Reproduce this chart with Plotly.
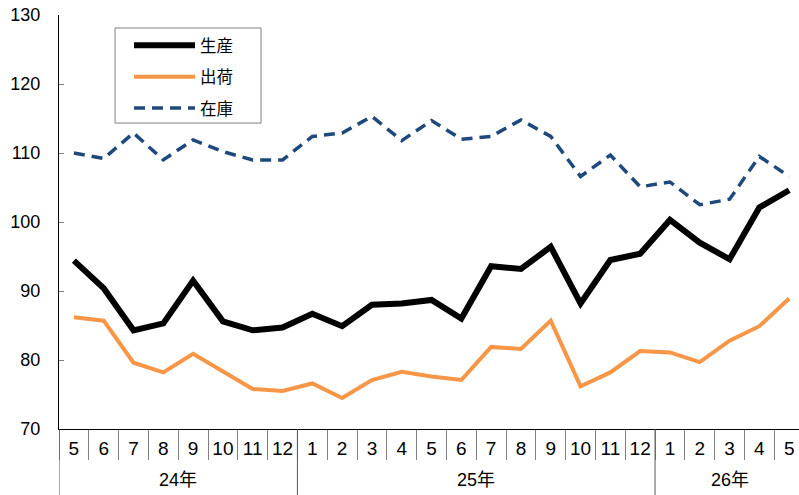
import plotly.graph_objects as go

months = ["5", "6", "7", "8", "9", "10", "11", "12",
          "1", "2", "3", "4", "5", "6", "7", "8", "9", "10", "11", "12",
          "1", "2", "3", "4", "5"]
years = ["24年", "25年", "26年"]
year_spans = [(0, 7), (8, 19), (20, 24)]  # index ranges of months per year

production = [94.4, 90.4, 84.3, 85.3, 91.5, 85.6, 84.3, 84.7,
              86.7, 84.9, 88.0, 88.2, 88.7, 86.0, 93.6, 93.2, 96.4, 88.2, 94.5, 95.4,
              100.3, 97.0, 94.6, 102.1, 104.6]
shipment = [86.2, 85.7, 79.6, 78.2, 80.9, 78.3, 75.8, 75.5,
            76.6, 74.5, 77.1, 78.3, 77.6, 77.1, 81.9, 81.6, 85.7, 76.2, 78.2, 81.3,
            81.1, 79.7, 82.8, 84.9, 88.9]
inventory = [110.0, 109.2, 112.9, 109.0, 111.9, 110.2, 109.0, 109.0,
             112.4, 112.9, 115.3, 111.8, 114.7, 112.0, 112.4, 114.8, 112.4, 106.6, 109.7, 105.1,
             105.8, 102.5, 103.3, 109.5, 106.6]

names = ["生産", "出荷", "在庫"]
x = list(range(len(months)))

FONT = "Liberation Sans, Arial, Noto Sans CJK JP, sans-serif"

fig = go.Figure()
fig.add_trace(go.Scatter(x=x, y=production, name=names[0], mode="lines", legendgroup="a",
                         line=dict(color="#000000", width=6)))
fig.add_trace(go.Scatter(x=x, y=shipment, name=names[1], mode="lines", legendgroup="b",
                         line=dict(color="#F79646", width=4)))
fig.add_trace(go.Scatter(x=x, y=inventory, name=names[2], mode="lines", legendgroup="c",
                         line=dict(color="#1F497D", width=3.5, dash="11px,7px")))

# year dividers
bounds = [-0.5] + [s[1] + 0.5 for s in year_spans]
for b in bounds:
    fig.add_shape(type="line", xref="x", yref="paper", x0=b, x1=b, y0=0, y1=-0.2,
                  line=dict(color="#595959", width=1))

for yr, (a, b) in zip(years, year_spans):
    fig.add_annotation(x=(a + b) / 2, y=-0.123,
                       xref="x", yref="paper", text=yr, showarrow=False,
                       font=dict(size=18, color="#000000", family=FONT),
                       xanchor="center", yanchor="middle")

# legend frame
fig.add_shape(type="rect", xref="paper", yref="paper",
              x0=0.0757, x1=0.273, y0=0.739, y1=0.9686,
              line=dict(color="#808080", width=1), fillcolor="white", layer="below")

fig.update_layout(
    width=799, height=495,
    margin=dict(l=59, r=0, t=15, b=66),
    plot_bgcolor="white", paper_bgcolor="white",
    font=dict(family=FONT, size=18, color="#000000"),
    showlegend=True,
    legend=dict(x=0.0946, y=0.9686, xanchor="left", yanchor="top",
                bgcolor="rgba(0,0,0,0)", borderwidth=0,
                font=dict(size=16.5, family="Noto Sans CJK JP, sans-serif"),
                itemwidth=61, tracegroupgap=7),
    xaxis=dict(range=[-0.5, 24.33], tickmode="array", tickvals=x, ticktext=months,
               ticks="", showline=True, linecolor="#000000", linewidth=1,
               showgrid=False, zeroline=False, ticklabelstandoff=2,
               automargin=False, ticklabeloverflow="allow",
               tickfont=dict(size=19, family=FONT),
               minor=dict(ticks="outside", tick0=-0.5, dtick=1, ticklen=30,
                          tickcolor="#808080", tickwidth=1, showgrid=False)),
    yaxis=dict(range=[70, 130], dtick=10, ticks="inside", ticklen=5,
               tickcolor="#808080", showline=True, linecolor="#000000", linewidth=1,
               showgrid=False, zeroline=False, ticklabelstandoff=14,
               automargin=False,
               tickfont=dict(size=18, family=FONT)),
)

fig.write_html("out.html", post_script="document.body.style.margin='0';",
               config={"displayModeBar": False})
